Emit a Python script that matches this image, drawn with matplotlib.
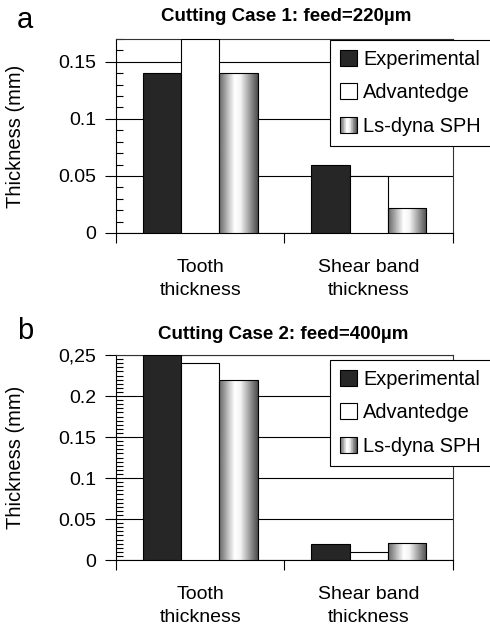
import numpy as np
import matplotlib
matplotlib.use("Agg")
import matplotlib.pyplot as plt
from matplotlib.patches import Rectangle
from matplotlib.legend_handler import HandlerBase
from matplotlib.ticker import MultipleLocator, FixedLocator

plt.rcParams["font.family"] = ["Liberation Sans", "DejaVu Sans"]

categories = ["Tooth\nthickness", "Shear band\nthickness"]
series = ["Experimental", "Advantedge", "Ls-dyna SPH"]

case1_experimental = [0.14, 0.06]
case1_advantedge = [0.17, 0.05]
case1_sph = [0.14, 0.022]

case2_experimental = [0.25, 0.02]
case2_advantedge = [0.24, 0.01]
case2_sph = [0.22, 0.021]

case1_ticks = [0, 0.05, 0.1, 0.15]
case1_ticklabels = ["0", "0.05", "0.1", "0.15"]
case2_ticks = [0, 0.05, 0.1, 0.15, 0.2, 0.25]
case2_ticklabels = ["0", "0.05", "0.1", "0.15", "0.2", "0,25"]

DARK = "#262626"


def grad_profile(n=64):
    t = np.linspace(0, 1, n)
    return np.interp(t, [0, 0.4, 0.55, 1], [0.4, 1.0, 0.96, 0.3])


class GradientHandler(HandlerBase):
    def create_artists(self, legend, orig_handle, xdescent, ydescent,
                       width, height, fontsize, trans):
        prof = grad_profile(24)
        n = len(prof)
        arts = []
        for i, v in enumerate(prof):
            arts.append(Rectangle((-xdescent + width * i / n, -ydescent),
                                  width / n * 1.05, height,
                                  facecolor=str(v), edgecolor="none",
                                  transform=trans))
        arts.append(Rectangle((-xdescent, -ydescent), width, height,
                              fill=False, edgecolor="black", lw=0.8,
                              transform=trans))
        return arts


def draw_panel(ax, exp, adv, sph, ymax, ticks, ticklabels, minor):
    x = np.arange(len(categories))
    w = 0.227
    ax.bar(x - w, exp, w, color=DARK, edgecolor="black", lw=0.8, zorder=3)
    ax.bar(x, adv, w, color="white", edgecolor="black", lw=0.8, zorder=3)
    bars = ax.bar(x + w, sph, w, color="none", edgecolor="black", lw=0.8,
                  zorder=4)
    img = grad_profile(128)[None, :]
    for b in bars:
        im = ax.imshow(img, cmap="gray", vmin=0, vmax=1, aspect="auto",
                       extent=(b.get_x(), b.get_x() + b.get_width(),
                               0, b.get_height()), zorder=3)
        im.set_clip_path(b)

    ax.set_xlim(-0.5, 1.5)
    ax.set_ylim(0, ymax)

    ax.yaxis.set_major_locator(FixedLocator(ticks))
    ax.set_yticklabels(ticklabels)
    ax.yaxis.set_minor_locator(MultipleLocator(minor))
    ax.tick_params(axis="y", which="major", direction="out", length=8,
                   width=0.8, labelsize=14, pad=6)
    ax.tick_params(axis="y", which="minor", direction="in", length=5,
                   width=0.8)
    ax.grid(axis="y", which="major", color="black", lw=0.8, zorder=1)

    ax.xaxis.set_major_locator(FixedLocator([-0.5, 0.5, 1.5]))
    ax.xaxis.set_major_formatter(plt.NullFormatter())
    ax.xaxis.set_minor_locator(FixedLocator(x))
    ax.set_xticklabels(categories, minor=True, linespacing=1.4)
    ax.tick_params(axis="x", which="major", direction="out", length=7,
                   width=0.8)
    ax.tick_params(axis="x", which="minor", length=0, labelsize=14, pad=19)

    for s in ax.spines.values():
        s.set_linewidth(0.8)
    ax.spines["top"].set_color("#333333")
    ax.spines["right"].set_color("#333333")

    ax.set_ylabel("Thickness (mm)", fontsize=14.5)
    ax.yaxis.set_label_coords(-0.27, 0.5)
    ax.set_axisbelow(True)
    return bars


fig = plt.figure(figsize=(4.9, 6.26), dpi=100)

ax1 = fig.add_axes([0.2367, 0.6278, 0.6878, 0.3099])
b1 = draw_panel(ax1, case1_experimental, case1_advantedge, case1_sph,
                0.17, case1_ticks, case1_ticklabels, 0.01)
ax2 = fig.add_axes([0.2367, 0.1054, 0.6878, 0.3275])
b2 = draw_panel(ax2, case2_experimental, case2_advantedge, case2_sph,
                0.25, case2_ticks, case2_ticklabels, 0.005)

for ax, anchor, bars in [(ax1, (0.635, 0.995), b1), (ax2, (0.635, 0.976), b2)]:
    handles = [Rectangle((0, 0), 1, 1, facecolor=DARK, edgecolor="black", lw=0.8),
               Rectangle((0, 0), 1, 1, facecolor="white", edgecolor="black", lw=0.8),
               bars[0]]
    leg = ax.legend(handles, series, loc="upper left", bbox_to_anchor=anchor,
                    fontsize=14.4, fancybox=False, framealpha=1,
                    edgecolor="black", handlelength=0.85, handleheight=0.85,
                    handletextpad=0.3, labelspacing=0.72, borderpad=0.5,
                    borderaxespad=0,
                    handler_map={bars[0]: GradientHandler()})
    leg.get_frame().set_linewidth(0.8)
    leg.set_zorder(10)

fig.text(0.584, 0.973, "Cutting Case 1: feed=220\u00b5m", ha="center",
         va="center", fontsize=13.5, fontweight="bold")
fig.text(0.577, 0.465, "Cutting Case 2: feed=400\u00b5m", ha="center",
         va="center", fontsize=13.5, fontweight="bold")
fig.text(0.051, 0.968, "a", ha="center", va="center", fontsize=21)
fig.text(0.051, 0.471, "b", ha="center", va="center", fontsize=21)

fig.savefig("out.png", dpi=100)
